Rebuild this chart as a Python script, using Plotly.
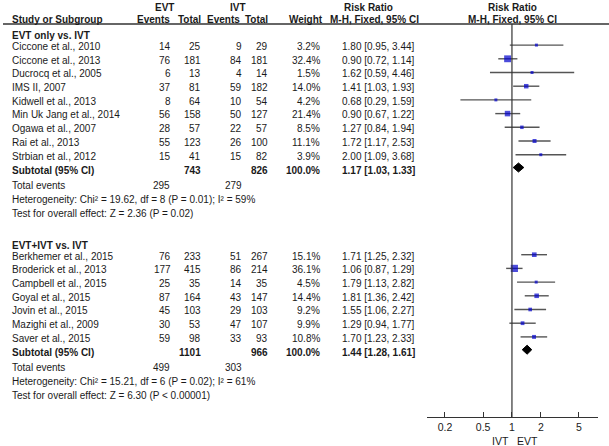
import math
import plotly.graph_objects as go

# ---------------- data ----------------
group_titles = ["EVT only vs. IVT", "EVT+IVT vs. IVT"]

studies1 = ["Ciccone et al., 2010", "Ciccone et al., 2013", "Ducrocq et al., 2005",
            "IMS II, 2007", "Kidwell et al., 2013", "Min Uk Jang et al., 2014",
            "Ogawa et al., 2007", "Rai et al., 2013", "Strbian et al., 2012"]
evt_events1 = [14, 76, 6, 37, 8, 56, 28, 55, 15]
evt_total1 = [25, 181, 13, 81, 64, 158, 57, 123, 41]
ivt_events1 = [9, 84, 4, 59, 10, 50, 22, 26, 15]
ivt_total1 = [29, 181, 14, 182, 54, 127, 57, 100, 82]
weight1 = [3.2, 32.4, 1.5, 14.0, 4.2, 21.4, 8.5, 11.1, 3.9]
rr1 = [1.80, 0.90, 1.62, 1.41, 0.68, 0.90, 1.27, 1.72, 2.00]
lo1 = [0.95, 0.72, 0.59, 1.03, 0.29, 0.67, 0.84, 1.17, 1.09]
hi1 = [3.44, 1.14, 4.46, 1.93, 1.59, 1.22, 1.94, 2.53, 3.68]
sub1 = [1.17, 1.03, 1.33]
sub_tot1 = [743, 826]
sub_events1 = [295, 279]
het1 = "Heterogeneity: Chi² = 19.62, df = 8 (P = 0.01); I² = 59%"
test1 = "Test for overall effect: Z = 2.36 (P = 0.02)"

studies2 = ["Berkhemer et al., 2015", "Broderick et al., 2013", "Campbell et al., 2015",
            "Goyal et al., 2015", "Jovin et al., 2015", "Mazighi et al., 2009",
            "Saver et al., 2015"]
evt_events2 = [76, 177, 25, 87, 45, 30, 59]
evt_total2 = [233, 415, 35, 164, 103, 53, 98]
ivt_events2 = [51, 86, 14, 43, 29, 47, 33]
ivt_total2 = [267, 214, 35, 147, 103, 107, 93]
weight2 = [15.1, 36.1, 4.5, 14.4, 9.2, 9.9, 10.8]
rr2 = [1.71, 1.06, 1.79, 1.81, 1.55, 1.29, 1.70]
lo2 = [1.25, 0.87, 1.13, 1.36, 1.06, 0.94, 1.23]
hi2 = [2.32, 1.29, 2.82, 2.42, 2.27, 1.77, 2.33]
sub2 = [1.44, 1.28, 1.61]
sub_tot2 = [1101, 966]
sub_events2 = [499, 303]
het2 = "Heterogeneity: Chi² = 15.21, df = 6 (P = 0.02); I² = 61%"
test2 = "Test for overall effect: Z = 6.30 (P &lt; 0.00001)"

tick_vals = [0.2, 0.5, 1, 2, 5]
tick_text = ["0.2", "0.5", "1", "2", "5"]
favour_labels = ["IVT", "EVT"]

# ---------------- layout constants ----------------
W, H = 609, 446
FONT = "Liberation Sans, Arial, sans-serif"
FS = 10
TXT = "#1a1a1a"
AXIS_Y = 417
STEP = 13.7

annotations = []


def txt(x, y, s, anchor="left", bold=False, size=FS):
    if bold:
        s = "<b>" + s + "</b>"
    annotations.append(dict(x=x / W, y=y, xref="paper", yref="y", text=s,
                            showarrow=False, xanchor=anchor, yanchor="middle",
                            font=dict(family=FONT, size=size, color=TXT)))


# header
txt(164, 7, "EVT", "center", True)
txt(238, 7, "IVT", "center", True)
txt(368, 7, "Risk Ratio", "center", True)
txt(512, 7, "Risk Ratio", "center", True)
txt(10, 19, "Study or Subgroup", "left", True)
txt(172, 19, "Events", "right", True)
txt(203, 19, "Total", "right", True)
txt(242, 19, "Events", "right", True)
txt(270, 19, "Total", "right", True)
txt(325, 19, "Weight", "right", True)
txt(374, 19, "M-H, Fixed, 95% CI", "center", True)
txt(512, 19, "M-H, Fixed, 95% CI", "center", True)

ci_x, ci_y = [], []
sq_x, sq_y, sq_s = [], [], []
diamonds = []

groups = [
    (group_titles[0], studies1, evt_events1, evt_total1, ivt_events1, ivt_total1,
     weight1, rr1, lo1, hi1, sub1, sub_tot1, sub_events1, het1, test1, 35.0, 46.4),
    (group_titles[1], studies2, evt_events2, evt_total2, ivt_events2, ivt_total2,
     weight2, rr2, lo2, hi2, sub2, sub_tot2, sub_events2, het2, test2, 245.0, 256.0),
]

for (title, st, ee, et, ie, it, w, rr, lo, hi, sub, stot, sev, het, test,
     y_head, y0) in groups:
    txt(10, y_head, title, "left", True)
    for i, name in enumerate(st):
        y = y0 + STEP * i
        txt(10, y, name)
        txt(173, y, str(ee[i]), "right")
        txt(203, y, str(et[i]), "right")
        txt(244, y, str(ie[i]), "right")
        txt(270, y, str(it[i]), "right")
        txt(322, y, f"{w[i]:.1f}%", "right")
        txt(417, y, f"{rr[i]:.2f} [{lo[i]:.2f}, {hi[i]:.2f}]", "right")
        ym = y - 1.3
        ci_x += [lo[i], hi[i], None]
        ci_y += [ym, ym, None]
        sq_x.append(rr[i])
        sq_y.append(ym)
        sq_s.append(max(3.0, 1.2 * math.sqrt(w[i])))
    n = len(st)
    ys = y0 + STEP * (n - 1) + 14.0
    txt(10, ys, "Subtotal (95% CI)", "left", True)
    txt(203, ys, str(stot[0]), "right", True)
    txt(270, ys, str(stot[1]), "right", True)
    txt(322, ys, "100.0%", "right", True)
    txt(417, ys, f"{sub[0]:.2f} [{sub[1]:.2f}, {sub[2]:.2f}]", "right", True)
    diamonds.append((sub, ys - 2.5))
    yt = ys + 15.0
    txt(10, yt, "Total events")
    txt(172, yt, str(sev[0]), "right")
    txt(244, yt, str(sev[1]), "right")
    txt(10, yt + 14.2, het)
    txt(10, yt + 28.4, test)

# favour labels (paper-referenced, below the axis)
for xpix, lab in zip([500, 527], favour_labels):
    annotations.append(dict(x=xpix / W, y=(H - 441) / H, xref="paper", yref="paper",
                            text=lab, showarrow=False, xanchor="center",
                            yanchor="middle",
                            font=dict(family=FONT, size=10.5, color=TXT)))

fig = go.Figure()

fig.add_trace(go.Scatter(x=ci_x, y=ci_y, mode="lines",
                         line=dict(color="#555555", width=1.4),
                         hoverinfo="skip", showlegend=False))
fig.add_trace(go.Scatter(x=sq_x, y=sq_y, mode="markers",
                         marker=dict(symbol="square", size=sq_s, color="#0000CC",
                                     line=dict(width=0)),
                         hoverinfo="skip", showlegend=False))
for sub, ys in diamonds:
    est, l, h = sub
    fig.add_trace(go.Scatter(x=[l, est, h, est, l], y=[ys, ys - 4.5, ys, ys + 4.5, ys],
                             mode="lines", fill="toself", fillcolor="black",
                             line=dict(color="black", width=1),
                             hoverinfo="skip", showlegend=False))

shapes = [
    dict(type="line", xref="paper", yref="y", x0=3 / W, x1=1, y0=24, y1=24,
         line=dict(color="#333333", width=1.5)),
    dict(type="line", xref="x", yref="y", x0=1, x1=1, y0=24, y1=AXIS_Y,
         line=dict(color="#333333", width=1.2)),
]

fig.update_layout(
    width=W, height=H,
    margin=dict(l=0, r=0, t=0, b=0),
    paper_bgcolor="white", plot_bgcolor="white",
    annotations=annotations, shapes=shapes,
    xaxis=dict(type="log", domain=[427 / W, 598 / W],
               range=[math.log10(0.13), math.log10(7.9)],
               showline=True, linecolor="#333333", linewidth=1.2,
               ticks="inside", ticklen=5, tickwidth=1.2, tickcolor="#333333",
               tickvals=tick_vals, ticktext=tick_text,
               tickfont=dict(family=FONT, size=10.5, color=TXT),
               showgrid=False, zeroline=False, fixedrange=True),
    yaxis=dict(domain=[(H - AXIS_Y) / H, 1], range=[AXIS_Y, 0], visible=False,
               showgrid=False, zeroline=False, fixedrange=True),
    showlegend=False,
)

fig.write_html("out.html", config={"displayModeBar": False},
               post_script="document.body.style.margin='0px';"
                           "document.body.style.overflow='hidden';")
